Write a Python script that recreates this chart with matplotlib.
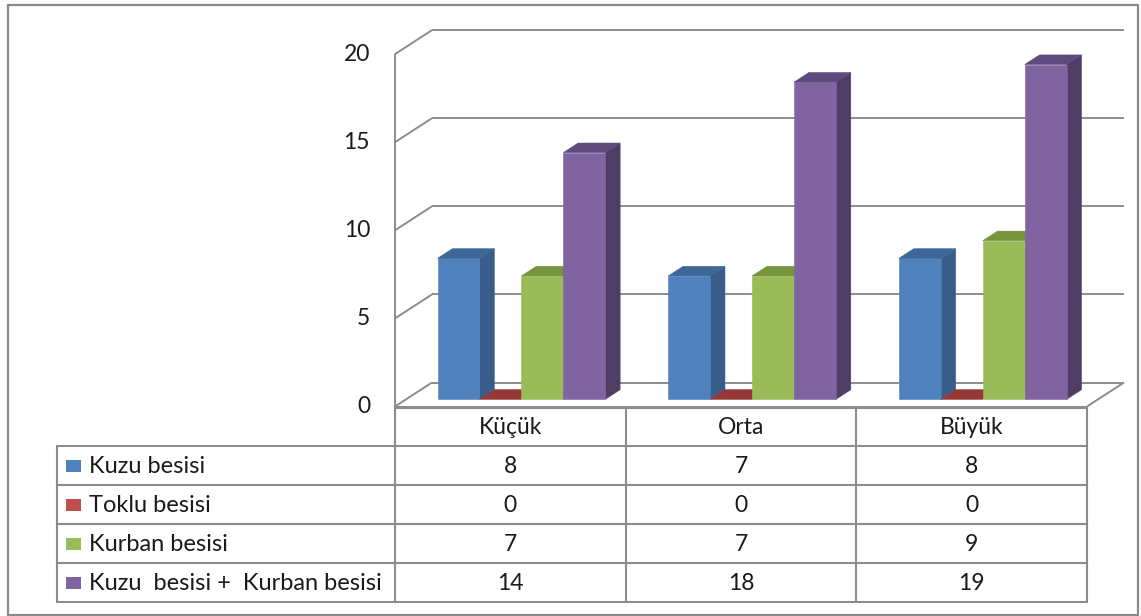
import matplotlib
matplotlib.use("Agg")
import matplotlib.pyplot as plt
from matplotlib.patches import Polygon, Rectangle

# --- data -------------------------------------------------------------
categories = ["Küçük", "Orta", "Büyük"]
series_names = ["Kuzu besisi", "Toklu besisi", "Kurban besisi",
                "Kuzu  besisi +  Kurban besisi"]
kuzu = [8, 7, 8]
toklu = [0, 0, 0]
kurban = [7, 7, 9]
kuzu_kurban = [14, 18, 19]
y_ticks = [0, 5, 10, 15, 20]

series_values = [kuzu, toklu, kurban, kuzu_kurban]

# front / side / top shades for each series
front_colors = ["#4F81BD", "#C0504D", "#9BBB59", "#8064A2"]
side_colors = ["#385D8A", "#8C3836", "#71893F", "#4F3D66"]
top_colors = ["#3E6797", "#953735", "#77933C", "#5F4A80"]

FONT = "Lato"
FS = 16.5
FS_LEG = 17
TXT = "#1a1a1a"
GRID = "#8c8c8c"

W, H = 1141, 616
fig = plt.figure(figsize=(W / 100, H / 100), dpi=100)

# layout canvas in pixel units (origin top-left) for frame and data table
lay = fig.add_axes([0, 0, 1, 1])
lay.set_xlim(0, W)
lay.set_ylim(H, 0)
lay.axis("off")

# plot canvas: x in category units, y in value units (front plane)
X0, Y0 = 395.0, 406.5          # pixel position of (category 0, value 0)
PX_CAT = 230.67                 # pixels per category
PX_VAL = 17.62                  # pixels per value unit
DEPTH_X, DEPTH_Y = 37.0, 24.0   # pixel offset of the back wall

ax = fig.add_axes([0, 0, 1, 1])
ax.set_xlim(-X0 / PX_CAT, (W - X0) / PX_CAT)
ax.set_ylim((Y0 - H) / PX_VAL, Y0 / PX_VAL)
ax.axis("off")
ax.patch.set_alpha(0)

ddx = DEPTH_X / PX_CAT
ddv = DEPTH_Y / PX_VAL
n_cat = len(categories)
v_max = y_ticks[-1]


def proj(x, v, d):
    """Oblique projection: depth d in [0, 1] shifts up and right."""
    return (x + d * ddx, v + d * ddv)


def line(p, q, **kw):
    ax.plot([p[0], q[0]], [p[1], q[1]], color=GRID, lw=1.4,
            solid_capstyle="butt", zorder=1, **kw)


# walls and floor
for t in y_ticks:
    line(proj(0, t, 1), proj(n_cat, t, 1))
    line(proj(0, t, 0), proj(0, t, 1))
line(proj(0, 0, 0), proj(0, v_max, 0))
line(proj(0, 0, 0), proj(n_cat, 0, 0))
line(proj(n_cat, 0, 0), proj(n_cat, 0, 1))

for t in y_ticks:
    ax.text((370 - X0) / PX_CAT, t, str(t), ha="right", va="center",
            fontsize=FS, family=FONT, color=TXT)

# 3D columns
n_ser = len(series_values)
gap = 1.5
bw = 1.0 / (n_ser + gap)
d0, d1 = 0.3, 0.7

for i in range(n_cat):
    for j in range(n_ser):
        v = series_values[j][i]
        xl = i + gap * bw / 2 + j * bw
        xr = xl + bw
        z = 3 + i * n_ser + j
        if v > 0:
            front = [proj(xl, 0, d0), proj(xr, 0, d0),
                     proj(xr, v, d0), proj(xl, v, d0)]
            side = [proj(xr, 0, d0), proj(xr, 0, d1),
                    proj(xr, v, d1), proj(xr, v, d0)]
            ax.add_patch(Polygon(side, closed=True, fc=side_colors[j],
                                 ec=side_colors[j], lw=0.4, zorder=z))
            ax.add_patch(Polygon(front, closed=True, fc=front_colors[j],
                                 ec=front_colors[j], lw=0.4, zorder=z))
        top = [proj(xl, v, d0), proj(xr, v, d0),
               proj(xr, v, d1), proj(xl, v, d1)]
        ax.add_patch(Polygon(top, closed=True, fc=top_colors[j],
                             ec=top_colors[j], lw=0.4, zorder=z))

# data table
col_x = [X0 + k * PX_CAT for k in range(n_cat + 1)]
table_top = Y0 + 1
row_y = [table_top, 446, 485, 524, 563, 602]
leg_left = 57

tl = dict(color=GRID, lw=1.5, solid_capstyle="projecting", zorder=2)
lay.plot([col_x[0], col_x[-1]], [row_y[0], row_y[0]], **tl)
for y in row_y[1:]:
    lay.plot([leg_left, col_x[-1]], [y, y], **tl)
for x in col_x:
    lay.plot([x, x], [row_y[0], row_y[-1]], **tl)
lay.plot([leg_left, leg_left], [row_y[1], row_y[-1]], **tl)

for k, name in enumerate(categories):
    cx = (col_x[k] + col_x[k + 1]) / 2
    lay.text(cx, (row_y[0] + row_y[1]) / 2 + 1, name, ha="center",
             va="center", fontsize=FS, family=FONT, color=TXT)

for j, name in enumerate(series_names):
    cy = (row_y[j + 1] + row_y[j + 2]) / 2
    lay.add_patch(Rectangle((66, cy - 6), 15, 12, fc=front_colors[j],
                            ec="none", zorder=3))
    lay.text(89, cy + 1, name, ha="left", va="center", fontsize=FS_LEG,
             family=FONT, color=TXT)
    for k in range(n_cat):
        cx = (col_x[k] + col_x[k + 1]) / 2
        lay.text(cx, cy + 1, str(series_values[j][k]), ha="center",
                 va="center", fontsize=FS, family=FONT, color=TXT)

# outer chart frame
lay.add_patch(Rectangle((8, 5), 1130, 610, fc="none", ec="#8a8a8a",
                        lw=1.6, zorder=5))

fig.savefig("out.png", dpi=100)
